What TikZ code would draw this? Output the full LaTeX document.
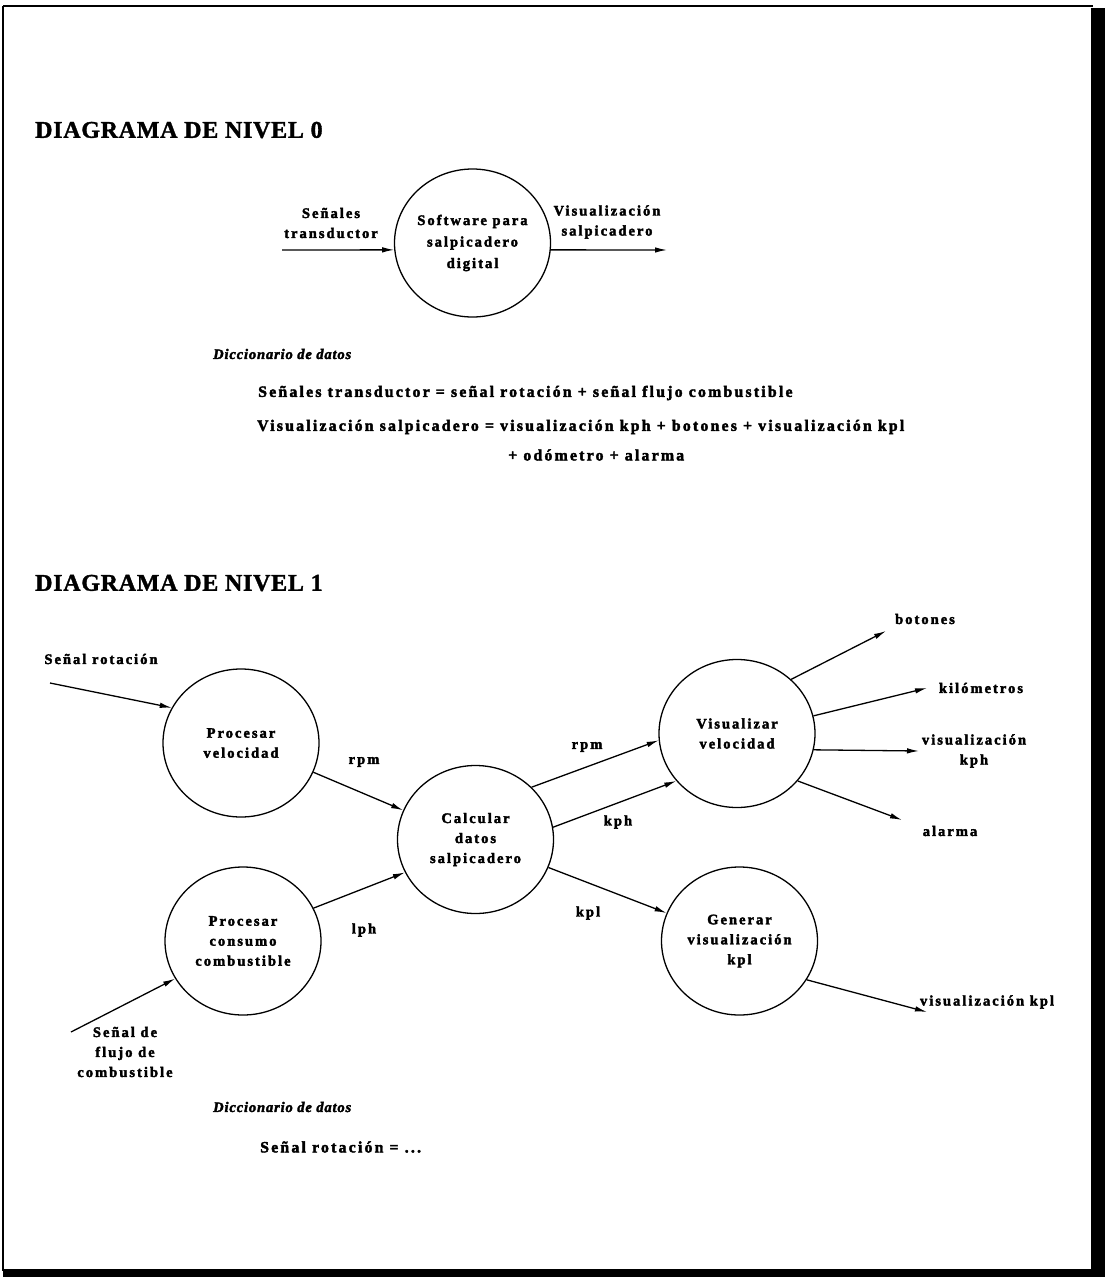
\documentclass[tikz,border=0pt]{standalone}
\usepackage{fontspec}
\setmainfont{Liberation Serif}
\newfontfamily\lblfont[LetterSpace=14, BoldFeatures={FakeBold=2.5}]{Liberation Serif}
\newfontfamily\dictfont[LetterSpace=6, BoldItalicFeatures={FakeBold=2.5}]{Liberation Serif}
\newfontfamily\headfont[LetterSpace=3, BoldFeatures={FakeBold=1.5}]{Liberation Serif}
\usetikzlibrary{shapes.geometric,arrows.meta}

\begin{document}
\begin{tikzpicture}[x=1pt,y=-1pt,
  lbl/.style={font=\lblfont\bfseries\fontsize{14.5}{20}\selectfont, inner sep=0pt, align=center},
  proc/.style={ellipse, draw, line width=1.3pt, minimum width=156pt, minimum height=148pt, inner sep=0pt, lbl},
  flow/.style={line width=1.3pt, -{Latex[length=12pt,width=5.5pt]}},
  head/.style={font=\headfont\bfseries\fontsize{24}{28}\selectfont, anchor=west, inner sep=0pt},
  dict/.style={font=\dictfont\bfseries\itshape\fontsize{14.5}{20}\selectfont, anchor=west, inner sep=0pt},
  entry/.style={font=\lblfont\bfseries\fontsize{15.8}{20}\selectfont, inner sep=0pt, anchor=west},
]
\useasboundingbox (0,0) rectangle (1110,1277);

% page frame with drop shadow
\draw[line width=2pt] (3,6) -- (1093,6);
\draw[line width=2pt] (3,6) -- (3,1271);
\fill (1091,8) rectangle (1105,1277);
\fill (3,1269) rectangle (1105,1277);

% ---------- level 0 ----------
\node[head] (h0) at (35,130) {DIAGRAMA DE NIVEL 0};

\node[proc, font=\lblfont\bfseries\fontsize{14.5}{21.5}\selectfont] (l0) at (472.5,243) {Software para\\salpicadero\\digital};
\coordinate (l0in) at (282,250);
\coordinate (l0out) at (667,250);
\draw[flow] (l0in) -- (l0.185);
\draw[flow] (l0.-5) -- (l0out);
\node[lbl] (l0inlbl) at (331,223) {Señales\\transductor};
\node[lbl] (l0outlbl) at (607,222) {Visualización\\salpicadero};

\node[dict] (d0) at (213,354) {Diccionario de datos};
\node[entry] (d0a) at (258,393) {Señales transductor = señal rotación + señal flujo combustible};
\node[entry] (d0b) at (257,427) {Visualización salpicadero = visualización kph + botones + visualización kpl};
\node[entry] (d0c) at (508,455) {+ odómetro + alarma};

% ---------- level 1 ----------
\node[head] (h1) at (35,583) {DIAGRAMA DE NIVEL 1};

\node[proc] (pv) at (241,743) {Procesar\\velocidad};
\node[proc] (calc) at (475.5,839.5) {Calcular\\datos\\salpicadero};
\node[proc] (pc) at (243,941) {Procesar\\consumo\\combustible};
\node[proc] (vis) at (737,733.5) {Visualizar\\velocidad};
\node[proc] (gen) at (739.5,941) {Generar\\visualización\\kpl};

% external inputs
\node[lbl] (rot) at (101,659) {Señal rotación};
\coordinate (rotin) at (50,683);
\draw[flow] (rotin) -- (pv.153);

\node[lbl] (flujo) at (125,1052) {Señal de\\flujo de\\combustible};
\coordinate (flujoin) at (71,1032);
\draw[flow] (flujoin) -- (pc.209);

% internal flows
\draw[flow] (pv.-22) -- (calc.158);
\node[lbl] (rpm1) at (364,762) {rpm};
\draw[flow] (pc.25) -- (calc.205);
\node[lbl] (lph) at (364,930) {lph};

\draw[flow] (calc.43) -- (vis.185);
\node[lbl] (rpm2) at (587,747) {rpm};
\draw[flow] (calc.9) -- (vis.218);
\node[lbl] (kph) at (618,822) {kph};
\draw[flow] (calc.-21) -- (gen.159);
\node[lbl] (kpl) at (588,913) {kpl};

% outputs
\coordinate (obot) at (886,631);
\coordinate (okil) at (927,688);
\coordinate (okph) at (919,751);
\coordinate (oala) at (902,820);
\coordinate (okpl) at (927,1012);
\draw[flow] (vis.45) -- (obot);
\draw[flow] (vis.13) -- (okil);
\draw[flow] (vis.-12) -- (okph);
\draw[flow] (vis.-38) -- (oala);
\draw[flow] (gen.-30) -- (okpl);
\node[lbl] (botones) at (925,619) {botones};
\node[lbl] (kilom) at (981,688) {kilómetros};
\node[lbl] (viskph) at (974,751) {visualización\\kph};
\node[lbl] (alarma) at (950,831) {alarma};
\node[lbl] (viskpl) at (987,1002) {visualización kpl};

\node[dict] (d1) at (213,1107) {Diccionario de datos};
\node[entry] (d1a) at (260,1147) {Señal rotación = ...};
\end{tikzpicture}
\end{document}
